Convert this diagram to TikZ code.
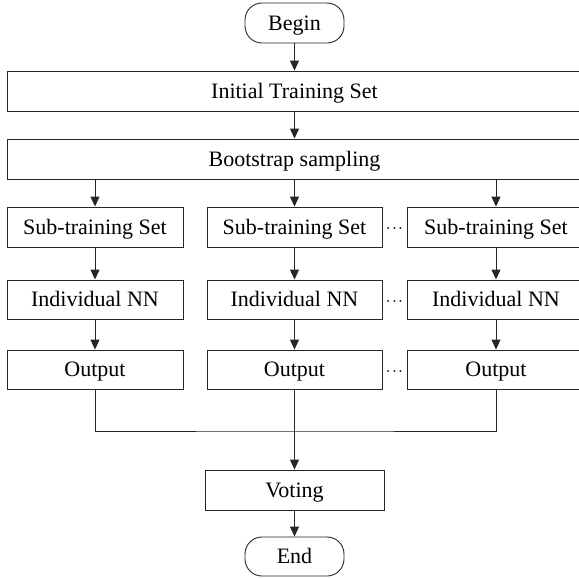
\documentclass[tikz,border=0pt]{standalone}
\usepackage{fontspec}
\setmainfont{Liberation Serif}
\usetikzlibrary{arrows.meta}
\tikzset{
  box/.style={draw=black!85,line width=0.9pt,rectangle,minimum height=40pt,inner sep=0pt,
    text height=14.5pt,text depth=0pt,font=\fontsize{22}{26}\selectfont},
  term/.style={box,rounded corners=17pt,minimum width=99pt},
  dotsep/.style={inner sep=0pt,font=\fontsize{13}{15}\selectfont\boldmath},
  arr/.style={line width=0.9pt,draw=black!85,-{Triangle[length=10pt,width=9pt]}},
  lin/.style={line width=0.9pt,draw=black!85}
}
\begin{document}
\begin{tikzpicture}[x=1pt,y=-1pt]
\useasboundingbox (0,0) rectangle (579,579);
\clip (0,0) rectangle (579,579);
\node[term] (begin) at (294.5,23) {Begin};
\node[box,minimum width=575pt] (init) at (294.5,91) {Initial Training Set};
\node[box,minimum width=575pt] (boot) at (294.5,159) {Bootstrap sampling};
%\node[box] (sub1) at (95,227) {Sub-training Set};
\node[box,minimum width=176pt] (sub1) at (95,227) {Sub-training Set};
\node[box,minimum width=175pt] (sub2) at (294.5,227) {Sub-training Set};
\node[box,minimum width=178pt] (sub3) at (496,227) {Sub-training Set};
\node[box,minimum width=176pt,minimum height=39pt] (nn1) at (95,299.5) {Individual NN};
\node[box,minimum width=175pt,minimum height=39pt] (nn2) at (294.5,299.5) {Individual NN};
\node[box,minimum width=178pt,minimum height=39pt] (nn3) at (496,299.5) {Individual NN};
\node[box,minimum width=176pt,minimum height=39pt] (out1) at (95,369.5) {Output};
\node[box,minimum width=175pt,minimum height=39pt] (out2) at (294.5,369.5) {Output};
\node[box,minimum width=178pt,minimum height=39pt] (out3) at (496,369.5) {Output};
\node[dotsep] (dots1) at (394.5,229) {$\cdots$};
\node[dotsep] (dots2) at (394.5,301.5) {$\cdots$};
\node[dotsep] (dots3) at (394.5,371.5) {$\cdots$};
\coordinate (merge) at (294.5,431);
\node[box,minimum width=179pt] (vote) at (294.5,490) {Voting};
\node[term,minimum height=39pt] (end) at (294.5,556.5) {End};
\draw[arr] (begin) -- (init);
\draw[arr] (init) -- (boot);
\draw[arr] (boot.south -| sub1) -- (sub1);
\draw[arr] (boot.south -| sub2) -- (sub2);
\draw[arr] (boot.south -| sub3) -- (sub3);
\draw[arr] (sub1) -- (nn1);
\draw[arr] (sub2) -- (nn2);
\draw[arr] (sub3) -- (nn3);
\draw[arr] (nn1) -- (out1);
\draw[arr] (nn2) -- (out2);
\draw[arr] (nn3) -- (out3);
\draw[lin] (out1.south) |- (merge) -| (out3.south);
\draw[arr] (out2) -- (vote);
\draw[arr] (vote) -- (end);
\end{tikzpicture}
\end{document}
